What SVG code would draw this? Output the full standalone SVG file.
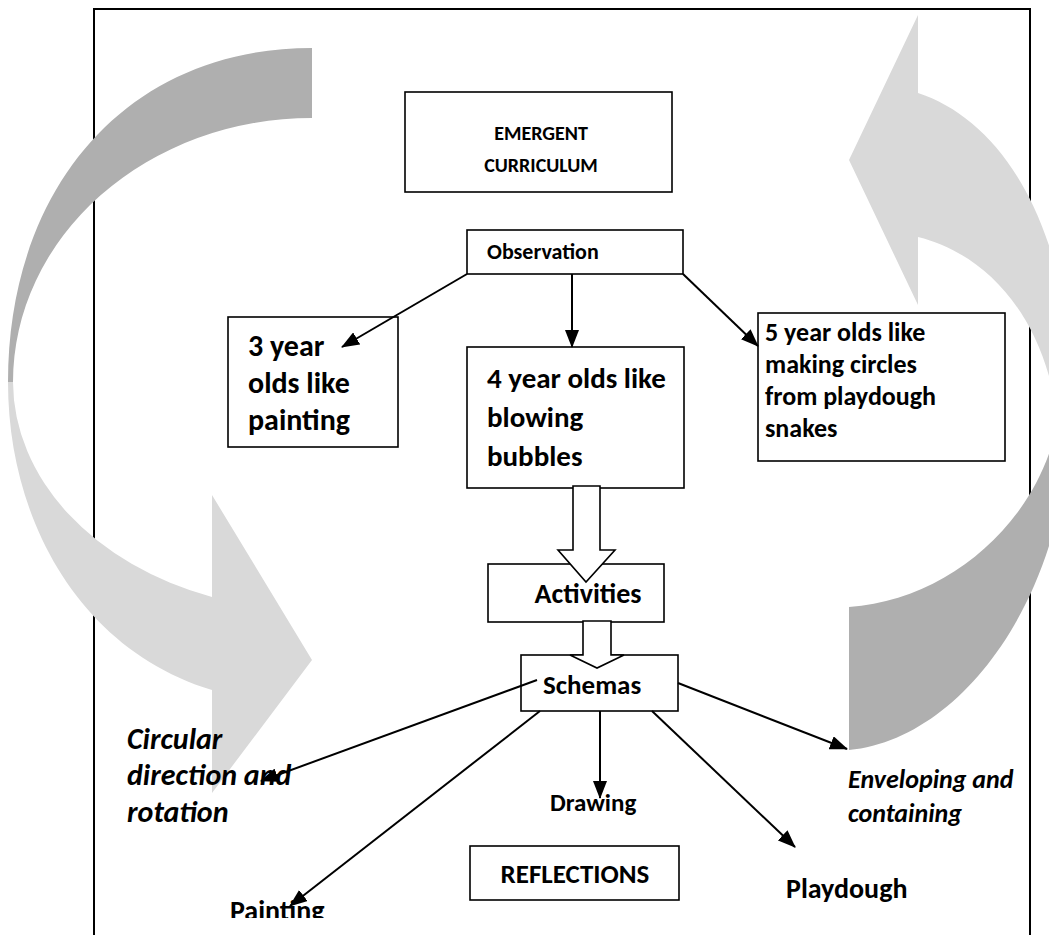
<svg xmlns="http://www.w3.org/2000/svg" width="1049" height="935" viewBox="0 0 1049 935">
  <style>
    .box { fill: #ffffff; stroke: #000000; stroke-width: 1.6; }
    .frame { fill: none; stroke: #000000; stroke-width: 2; }
    .back { fill: #afafaf; }
    .front { fill: #d9d9d9; }
    .link { fill: none; stroke: #000000; stroke-width: 2; marker-end: url(#head); }
    .block { fill: #ffffff; stroke: #000000; stroke-width: 1.6; stroke-linejoin: miter; }
    text { font-family: Carlito, Lato, "Liberation Sans", sans-serif; font-weight: bold; fill: #000000; }
    .it { font-style: italic; }
    .mid { text-anchor: middle; }
  </style>
  <defs>
    <marker id="head" viewBox="0 0 18 14" refX="17" refY="7" markerWidth="18" markerHeight="14" markerUnits="userSpaceOnUse" orient="auto">
      <path d="M0,0 L18,7 L0,14 Z" fill="#000000"/>
    </marker>
    <clipPath id="pageClip">
      <rect x="0" y="0" width="1049" height="918"/>
    </clipPath>
  </defs>

  <!-- outer page border -->
  <rect class="frame" x="94" y="9" width="936" height="940"/>

  <!-- left circular arrow: back band then front band with head -->
  <g id="cycle-left">
    <path class="back" d="M312,48 C125,48 8,190 8,382 L13,382 A299,264 0 0 1 312,118 Z"/>
    <path class="front" d="M8,382 C8,520 80,650 212,690 L212,793 L312,660 L212,495 L212,597 A299,229 0 0 1 13,382 Z"/>
  </g>

  <!-- right circular arrow: front band with head then back band -->
  <g id="cycle-right">
    <path class="front" d="M918,93 C1000,120 1070,220 1075,410 L1058,420 C1045,320 990,255 918,237 L918,305 L849,160 L918,15 Z"/>
    <path class="back" d="M1070,420 C1065,600 960,740 849,750 L849,607 C950,600 1040,520 1058,420 Z"/>
  </g>

  <g id="emergent">
    <rect class="box" x="405" y="92" width="267" height="100"/>
    <text class="mid" x="541" y="140" font-size="20">EMERGENT</text>
    <text class="mid" x="541" y="172" font-size="20">CURRICULUM</text>
  </g>

  <g id="observation">
    <rect class="box" x="467" y="230" width="216" height="44"/>
    <text x="487" y="259" font-size="22">Observation</text>
  </g>

  <g id="age3">
    <rect class="box" x="228" y="317" width="170" height="130"/>
    <text x="248" y="356" font-size="30">3 year</text>
    <text x="248" y="393" font-size="30">olds like</text>
    <text x="248" y="430" font-size="30">painting</text>
  </g>

  <g id="age4">
    <rect class="box" x="467" y="347" width="217" height="141"/>
    <text x="487" y="388" font-size="29">4 year olds like</text>
    <text x="487" y="427" font-size="29">blowing</text>
    <text x="487" y="466" font-size="29">bubbles</text>
  </g>

  <g id="age5">
    <rect class="box" x="758" y="313" width="247" height="148"/>
    <text x="765" y="341" font-size="26">5 year olds like</text>
    <text x="765" y="373" font-size="26">making circles</text>
    <text x="765" y="405" font-size="26">from playdough</text>
    <text x="765" y="437" font-size="26">snakes</text>
  </g>

  <g id="activities">
    <rect class="box" x="488" y="564" width="176" height="58"/>
    <text class="mid" x="588" y="603" font-size="28">Activities</text>
  </g>

  <g id="schemas">
    <rect class="box" x="521" y="655" width="157" height="56"/>
    <text x="543" y="694" font-size="27">Schemas</text>
  </g>

  <g id="reflections">
    <rect class="box" x="470" y="846" width="209" height="54"/>
    <text class="mid" x="575" y="883" font-size="27">REFLECTIONS</text>
  </g>

  <!-- hollow block arrows between the stacked boxes -->
  <g id="flow">
    <path class="block" d="M573,486 L600,486 L600,550 L615,550 L586,582 L558,550 L573,550 Z"/>
    <path class="block" d="M583,621 L611,621 L611,655 L624,655 L597,668 L570,655 L583,655 Z"/>
  </g>

  <!-- thin connectors -->
  <g id="connectors">
    <path class="link" d="M467,274 L342,347"/>
    <path class="link" d="M572,274 L572,347"/>
    <path class="link" d="M683,274 L758,346"/>
    <path class="link" d="M537,680 L261,781"/>
    <path class="link" d="M540,711 L290,906"/>
    <path class="link" d="M600,711 L600,798"/>
    <path class="link" d="M652,711 L795,847"/>
    <path class="link" d="M678,683 L847,749"/>
  </g>

  <g id="schema-labels">
    <text class="it" x="127" y="749" font-size="30">Circular</text>
    <text class="it" x="127" y="785" font-size="30">direction and</text>
    <text class="it" x="127" y="822" font-size="30">rotation</text>
    <text x="550" y="811" font-size="25">Drawing</text>
    <text class="it" x="848" y="788" font-size="26">Enveloping and</text>
    <text class="it" x="848" y="822" font-size="26">containing</text>
    <text x="786" y="898" font-size="28">Playdough</text>
    <text x="230" y="920" font-size="28" clip-path="url(#pageClip)">Painting</text>
  </g>
</svg>
